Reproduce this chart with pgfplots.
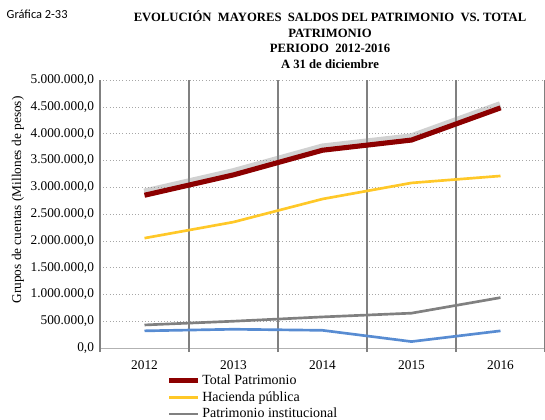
\documentclass[border=0pt]{standalone}
\usepackage{fontspec}
\setmainfont{Liberation Serif}
\newfontfamily\calibri{Carlito}
\usepackage{pgfplots}
\pgfplotsset{compat=1.18}
\definecolor{totalred}{RGB}{140,0,0}
\definecolor{haciendayel}{RGB}{255,200,40}
\definecolor{instgray}{RGB}{128,128,128}
\definecolor{otherblue}{RGB}{88,140,210}

\begin{document}
\begin{tikzpicture}
\useasboundingbox (-75pt,-53.25pt) rectangle (333.75pt,261pt);
\begin{axis}[
    at={(0pt,0pt)}, anchor=south west,
    scale only axis, width=333.75pt, height=201pt,
    xmin=0.5, xmax=5.5, ymin=0, ymax=5000000,
    xtick={1,2,3,4,5}, xticklabels={2012,2013,2014,2015,2016},
    xtick style={draw=none},
    extra x ticks={0.5,1.5,2.5,3.5,4.5,5.5}, extra x tick labels={},
    extra x tick style={xtick style={draw=instgray, line width=2.1pt},
        tick align=outside, major tick length=3pt,
        grid=major, major grid style={instgray, line width=2.1pt}},
    ytick={0,500000,...,5000000}, ytick style={draw=none},
    ymajorgrids, y grid style={dotted, gray!70},
    scaled y ticks=false,
    yticklabel style={font=\fontsize{10}{12}\selectfont, xshift=-1pt,
        /pgf/number format/fixed, /pgf/number format/fixed zerofill,
        /pgf/number format/precision=1, /pgf/number format/use comma,
        /pgf/number format/1000 sep={.}, /pgf/number format/assume math mode=true},
    xticklabel style={font=\fontsize{10}{12}\selectfont, yshift=-6pt},
    axis x line*=bottom, axis y line*=left,
    axis line style={-},
    x axis line style={gray!60, line width=0.6pt},
    y axis line style={instgray!85, line width=2pt},
    legend style={at={(0.14,-0.085)}, anchor=north west, draw=none, fill=none,
        font=\fontsize{10.5}{11}\selectfont, row sep=1.6pt,
        nodes={inner sep=1pt}},
    legend cell align=left,
    legend image code/.code={\draw[#1] (0pt,0pt) -- (22pt,0pt);},
]
% sin leyenda
\addplot[forget plot, otherblue, line width=2pt]
  coordinates {(1,320000) (2,350000) (3,330000) (4,120000) (5,320000)};
% sombra
\addplot[forget plot, black!45, opacity=0.4, line width=6.5pt, yshift=1.8pt]
  coordinates {(1,2850000) (2,3230000) (3,3690000) (4,3880000) (5,4480000)};

\addplot[totalred, line width=3.8pt]
  coordinates {(1,2850000) (2,3230000) (3,3690000) (4,3880000) (5,4480000)};
\addlegendentry{Total Patrimonio}

\addplot[haciendayel, line width=2pt]
  coordinates {(1,2050000) (2,2350000) (3,2780000) (4,3080000) (5,3210000)};
\addlegendentry{Hacienda pública}

\addplot[instgray, line width=2pt]
  coordinates {(1,430000) (2,500000) (3,580000) (4,650000) (5,940000)};
\addlegendentry{Patrimonio institucional}
\end{axis}

\node[anchor=base west, font=\calibri\fontsize{9.3}{10}\selectfont] at (-73.5pt,247pt) {Gráfica 2-33};
\begin{scope}[every node/.style={anchor=base, font=\bfseries\fontsize{9.5}{11}\selectfont}]
\node at (172.5pt,244.9pt) {EVOLUCIÓN\ \ MAYORES\ \ SALDOS DEL PATRIMONIO\ \ VS. TOTAL};
\node at (172.5pt,232.9pt) {PATRIMONIO};
\node at (172.5pt,221.6pt) {PERIODO\ \ 2012-2016};
\node at (172.5pt,209.6pt) {A 31 de diciembre};
\end{scope}
\node[rotate=90, font=\fontsize{10}{12}\selectfont] at (-61.5pt,111pt) {Grupos de cuentas (Millones de pesos)};
\end{tikzpicture}
\end{document}
